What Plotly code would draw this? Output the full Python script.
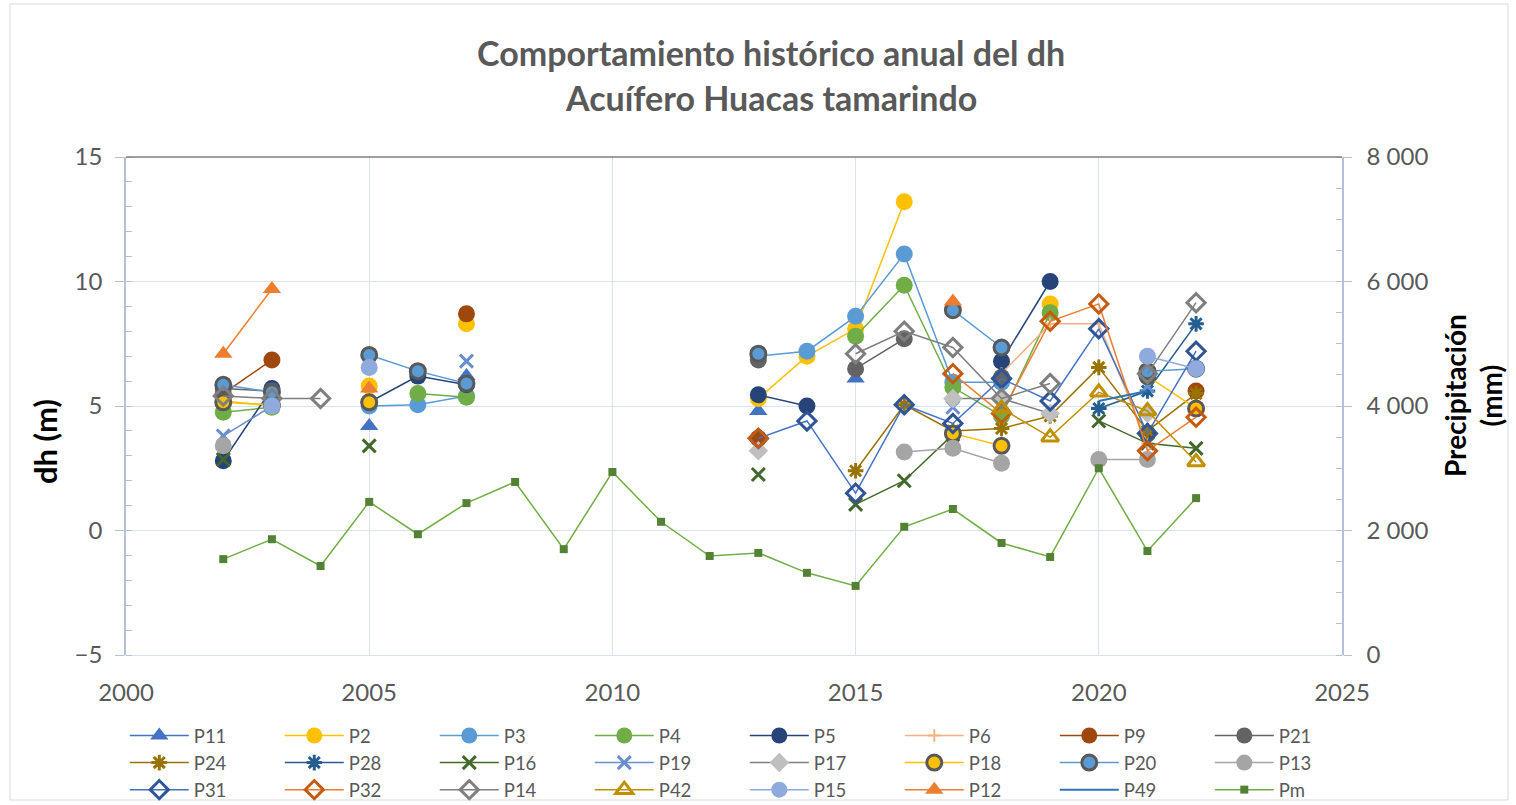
import plotly.graph_objects as go

N = None
years = list(range(2002, 2023))
#            02   03   04   05   06   07   08 09 10 11 12  13   14   15    16    17   18   19   20   21   22
P11 = [N,   N,   N,   4.2, N,   6.2, N, N, N, N, N, 4.8, N,   6.1, N,    N,   N,   N,   N,   N,   N]
P2  = [5.2, 5.0, N,   5.8, N,   8.3, N, N, N, N, N, 5.3, 7.0, 8.1, 13.2, N,   N,   9.1, N,   6.3, N]
P3  = [N,   N,   N,   5.0, 5.05,5.4, N, N, N, N, N, 7.0, 7.2, 8.6, 11.1, 5.95,5.95,N,   N,   N,   N]
P4  = [4.75,4.95,N,   N,   5.5, 5.35,N, N, N, N, N, N,   N,   7.8, 9.85, 5.75,4.6, 8.75,N,   N,   N]
P5  = [2.8, 5.7, N,   5.15,6.2, 5.85,N, N, N, N, N, 5.45,5.0, N,   N,    N,   6.8, 10.0,N,   3.9, N]
P6  = [N,   N,   N,   N,   N,   N,   N, N, N, N, N, N,   N,   N,   N,    N,   6.3, 8.3, 8.3, 3.5, N]
P9  = [5.5, 6.85,N,   N,   N,   8.7, N, N, N, N, N, 3.7, N,   N,   N,    N,   N,   N,   N,   N,   5.6]
P21 = [5.7, 5.6, N,   N,   N,   N,   N, N, N, N, N, 6.85,N,   6.5, 7.7,  N,   6.15,N,   N,   N,   N]
P24 = [N,   N,   N,   N,   N,   N,   N, N, N, N, N, N,   N,   2.4, 5.05, 4.0, 4.1, 4.6, 6.55,4.0, 5.5]
P28 = [N,   N,   N,   N,   N,   N,   N, N, N, N, N, N,   N,   N,   N,    N,   N,   N,   4.9, 5.6, 8.3]
P16 = [2.85,N,   N,   3.4, N,   N,   N, N, N, N, N, 2.25,N,   1.05,2.0,  3.85,N,   N,   4.4, 3.5, 3.3]
P19 = [3.8, 5.0, N,   N,   N,   6.8, N, N, N, N, N, N,   N,   N,   N,    4.95,N,   N,   N,   5.8, N]
P17 = [N,   N,   N,   N,   N,   N,   N, N, N, N, N, 3.2, N,   N,   N,    5.3, 5.3, 4.7, N,   4.7, N]
P18 = [5.15,5.05,N,   5.15,N,   N,   N, N, N, N, N, N,   N,   N,   N,    3.9, 3.4, N,   N,   6.2, 4.9]
P20 = [5.85,5.55,N,   7.05,6.4, 5.9, N, N, N, N, N, 7.1, N,   N,   N,    8.85,7.35,N,   N,   6.4, 6.5]
P13 = [3.4, N,   N,   N,   N,   N,   N, N, N, N, N, N,   N,   N,   3.15, 3.3, 2.7, N,   2.85,2.85,N]
P31 = [N,   N,   N,   N,   N,   N,   N, N, N, N, N, 3.7, 4.4, 1.5, 5.05, 4.3, 6.1, 5.2, 8.1, 3.9, 7.2]
P32 = [N,   N,   N,   N,   N,   N,   N, N, N, N, N, 3.7, N,   N,   N,    6.3, 4.7, 8.4, 9.1, 3.2, 4.55]
P14 = [5.4, 5.3, 5.3, N,   N,   N,   N, N, N, N, N, N,   N,   7.1, 8.0,  7.35,5.3, 5.9, N,   6.3, 9.15]
P42 = [N,   N,   N,   N,   N,   N,   N, N, N, N, N, N,   N,   N,   N,    N,   4.9, 3.75,5.55,4.8, 2.75]
P15 = [N,   5.0, N,   6.55,N,   N,   N, N, N, N, N, N,   N,   N,   N,    N,   N,   N,   N,   7.0, 6.5]
P12 = [7.1, 9.7, N,   5.7, N,   N,   N, N, N, N, N, N,   N,   N,   N,    9.2, N,   N,   N,   N,   N]
P49 = [N,   N,   N,   N,   N,   N,   N, N, N, N, N, N,   N,   N,   N,    N,   N,   N,   5.2, 5.6, N]
Pm  = [1540, 1860, 1430, 2460, 1940, 2440, 2780, 1700, 2940, 2140, 1590,
       1640, 1320, 1110, 2060, 2345, 1800, 1575, 3000, 1670, 2520]

FONT = "Lato"
GREY_TXT = "#595959"

# name, values, line color, marker symbol, marker fill, marker line color, marker line width, marker size
specs = [
    ("P11", P11, "#4472C4", "triangle-up", "#4472C4", "#4472C4", 0, 16),
    ("P2", P2, "#FFC000", "circle", "#FFC000", "#FFC000", 0, 17),
    ("P3", P3, "#5B9BD5", "circle", "#5B9BD5", "#5B9BD5", 0, 17),
    ("P4", P4, "#70AD47", "circle", "#70AD47", "#70AD47", 0, 17),
    ("P5", P5, "#264478", "circle", "#264478", "#264478", 0, 17),
    ("P6", P6, "#F4B183", "cross-thin", "#F4B183", "#F4B183", 2, 9),
    ("P9", P9, "#9E480E", "circle", "#9E480E", "#9E480E", 0, 17),
    ("P21", P21, "#636363", "circle", "#636363", "#636363", 0, 17),
    ("P24", P24, "#997300", "asterisk", "#997300", "#997300", 3, 13),
    ("P28", P28, "#255E91", "asterisk", "#255E91", "#255E91", 3, 13),
    ("P16", P16, "#43682B", "x-thin", "#43682B", "#43682B", 3, 13),
    ("P19", P19, "#698ED0", "x-thin", "#698ED0", "#698ED0", 3, 13),
    ("P17", P17, "#7F7F7F", "diamond", "#BFBFBF", "#BFBFBF", 0, 15),
    ("P18", P18, "#FFC000", "circle", "#FFC000", "#595959", 3, 15),
    ("P20", P20, "#5B9BD5", "circle", "#5B9BD5", "#595959", 3, 15),
    ("P13", P13, "#A5A5A5", "circle", "#A5A5A5", "#A5A5A5", 0, 17),
    ("P31", P31, "#4472C4", "diamond-open", "#2F5597", "#2F5597", 3, 14),
    ("P32", P32, "#ED7D31", "diamond-open", "#C55A11", "#C55A11", 3, 14),
    ("P14", P14, "#7F7F7F", "diamond-open", "#7F7F7F", "#7F7F7F", 3, 14),
    ("P42", P42, "#BF9000", "triangle-up-open", "#BF9000", "#BF9000", 3, 15),
    ("P15", P15, "#8FAADC", "circle", "#8FAADC", "#8FAADC", 0, 17),
    ("P12", P12, "#ED7D31", "triangle-up", "#ED7D31", "#ED7D31", 0, 16),
]

fig = go.Figure()
for name, vals, lc, sym, mfill, mline, mlw, msz in specs:
    fig.add_trace(go.Scatter(
        x=years, y=vals, name=name, mode="lines+markers", connectgaps=False,
        line=dict(color=lc, width=1.5),
        marker=dict(symbol=sym, color=mfill, size=msz,
                    line=dict(color=mline, width=mlw)),
    ))
fig.add_trace(go.Scatter(x=years, y=P49, name="P49", mode="lines",
                         connectgaps=False, line=dict(color="#2E75B6", width=2)))
fig.add_trace(go.Scatter(x=years, y=Pm, name="Pm", mode="lines+markers", yaxis="y2",
                         line=dict(color="#70AD47", width=1.5),
                         marker=dict(symbol="square", color="#548235", size=8)))

axis_font = dict(family=FONT, size=24, color=GREY_TXT)
fig.update_layout(
    width=1516, height=805,
    paper_bgcolor="white", plot_bgcolor="white",
    margin=dict(l=126, r=174, t=157, b=150, autoexpand=False),
    font=dict(family=FONT, color=GREY_TXT),
    separators=", ",
    showlegend=True,
    xaxis=dict(range=[2000, 2025], dtick=5, tick0=2000, showgrid=True,
               gridcolor="#D9E1F2", gridwidth=1, showline=True, linecolor="#D9E1F2",
               linewidth=1, ticks="", tickfont=axis_font, ticklabelstandoff=16,
               zeroline=False),
    yaxis=dict(range=[-5, 15], dtick=5, tick0=-5, showgrid=True, gridcolor="#D9E1F2",
               showline=True, linecolor="#B4C0D8", linewidth=1.5,
               ticks="outside", ticklen=9, tickcolor="#B4C0D8",
               minor=dict(dtick=1, ticks="inside", ticklen=6, tickcolor="#B4C0D8", showgrid=False),
               tickfont=axis_font, ticklabelstandoff=8, zeroline=False),
    yaxis2=dict(range=[0, 8000], dtick=2000, overlaying="y", side="right",
                showgrid=False, showline=True, linecolor="#B4C0D8", linewidth=1.5,
                ticks="outside", ticklen=8, tickcolor="#B4C0D8",
                minor=dict(dtick=500, ticks="inside", ticklen=6, tickcolor="#B4C0D8"),
                tickformat=",d", tickfont=axis_font, ticklabelstandoff=10,
                zeroline=False),
    legend=dict(orientation="h", x=-0.001, xanchor="left", y=-0.1245, yanchor="top",
                entrywidth=81, entrywidthmode="pixels", itemwidth=59, tracegroupgap=0,
                font=dict(family=FONT, size=18.5, color=GREY_TXT),
                bgcolor="rgba(0,0,0,0)", itemsizing="trace"),
    shapes=[
        dict(type="line", xref="paper", yref="paper", x0=0, x1=1, y0=1, y1=1,
             line=dict(color="#7F7F7F", width=1.5)),
        dict(type="rect", xref="paper", yref="paper",
             x0=(10 - 126) / 1216, x1=(1508 - 126) / 1216,
             y0=-(800 - 655) / 498, y1=(655 - 4) / 498,
             line=dict(color="#D9D9D9", width=1)),
    ],
    annotations=[
        dict(text="<b>Comportamiento histórico anual del dh</b>", xref="paper", yref="paper",
             x=(771 - 126) / 1216, y=(655 - 52) / 498, xanchor="center", yanchor="middle",
             showarrow=False, font=dict(family=FONT, size=34, color=GREY_TXT)),
        dict(text="<b>Acuífero Huacas tamarindo</b>", xref="paper", yref="paper",
             x=(771 - 126) / 1216, y=(655 - 97) / 498, xanchor="center", yanchor="middle",
             showarrow=False, font=dict(family=FONT, size=34, color=GREY_TXT)),
        dict(text="<b>dh (m)</b>", xref="paper", yref="paper",
             x=(45 - 126) / 1216, y=(655 - 442) / 498, xanchor="center", yanchor="middle",
             textangle=-90, showarrow=False, font=dict(family=FONT, size=31, color="black")),
        dict(text="<b>Precipitación<br>(mm)</b>", xref="paper", yref="paper",
             x=(1473 - 126) / 1216, y=(655 - 396) / 498, xanchor="center", yanchor="middle",
             textangle=-90, showarrow=False, font=dict(family=FONT, size=28, color="black")),
    ],
)

fig.write_html("out.html", config={"displayModeBar": False},
               post_script="document.body.style.margin='0';document.body.style.overflow='hidden';")
